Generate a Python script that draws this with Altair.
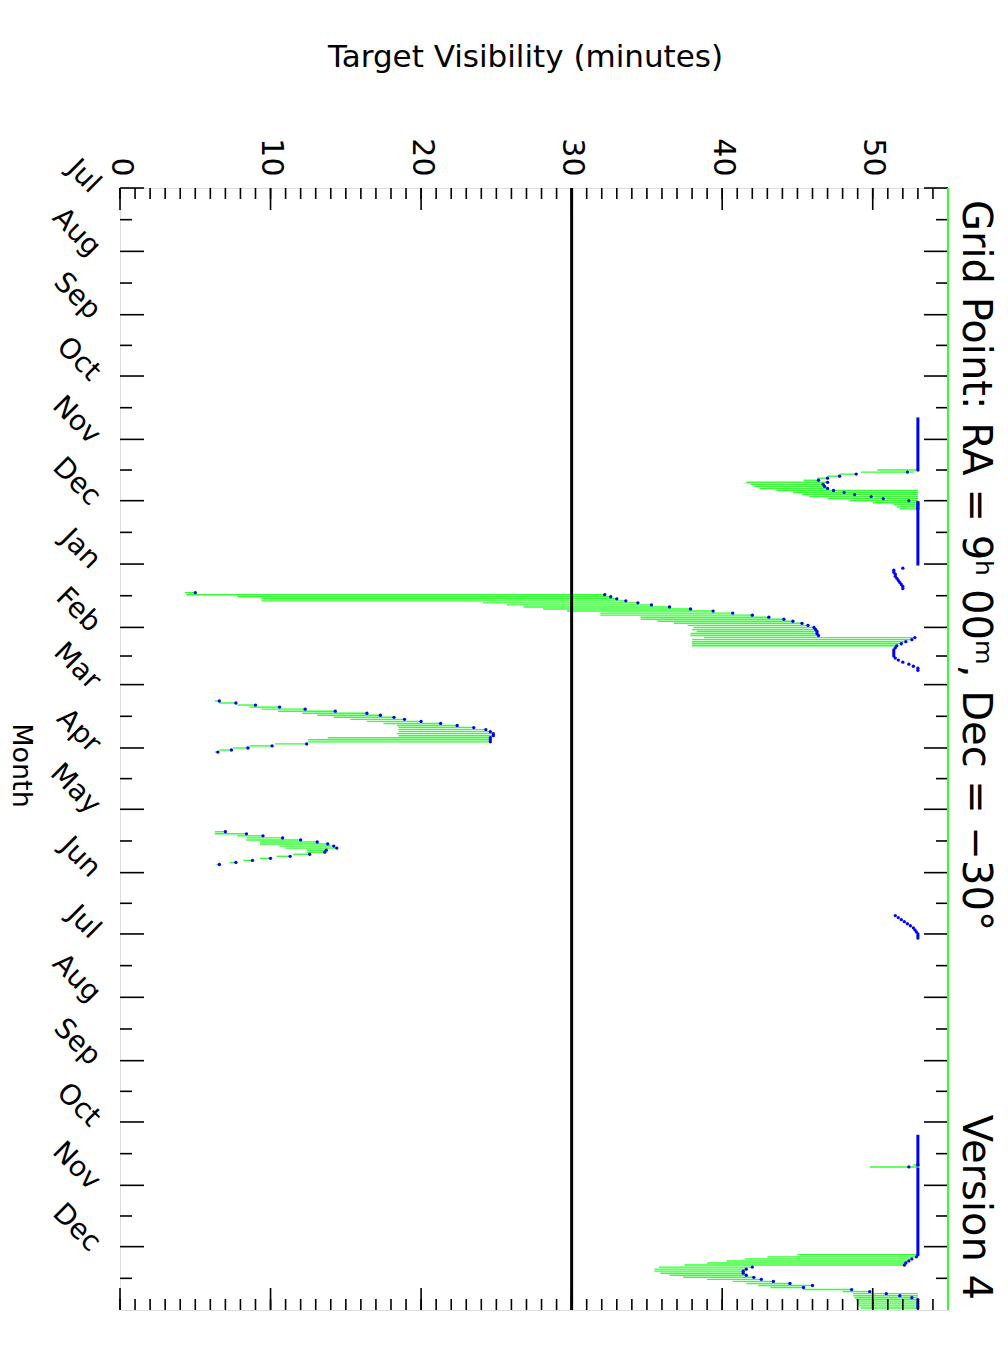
import altair as alt
import pandas as pd

# ---------------- axis categories / ticks ----------------
month_names = ["Jul", "Aug", "Sep", "Oct", "Nov", "Dec", "Jan", "Feb", "Mar",
               "Apr", "May", "Jun", "Jul", "Aug", "Sep", "Oct", "Nov", "Dec"]
month_start = [0, 31, 62, 92, 123, 153, 184, 215, 243, 274, 304, 335, 365,
               396, 427, 457, 488, 518]
month_mid = [15.5, 46.5, 77, 107.5, 138, 168.5, 199.5, 229, 258.5, 289, 319.5,
             350, 380.5, 411.5, 442, 472.5, 503, 533.5]
minute_major = [0, 10, 20, 30, 40, 50]
minute_minor = [0, 1, 2, 3, 4, 5, 6, 7, 8, 9, 10, 11, 12, 13, 14, 15, 16, 17, 18,
                19, 20, 21, 22, 23, 24, 25, 26, 27, 28, 29, 30, 31, 32, 33, 34,
                35, 36, 37, 38, 39, 40, 41, 42, 43, 44, 45, 46, 47, 48, 49, 50,
                51, 52, 53, 54, 55]
threshold = [30]

# ---------------- daily visibility (day since 1 Jul) ----------------
days = [138, 139, 140, 141, 142, 143, 144, 145, 146, 147, 148, 149, 150, 151, 152, 153, 154, 155, 156, 157,
        186, 187, 188, 189, 190, 191, 192, 193, 194, 195, 196,
        198, 199, 200, 201, 202, 203, 204, 205, 206, 207, 208, 209, 210, 211, 212, 213, 214, 215, 216, 217,
        218, 219, 220, 221, 222, 223, 224, 225, 226, 227, 228, 229, 230, 231, 232, 233, 234, 235, 236,
        251, 252, 253, 254, 255, 256, 257, 258, 259, 260, 261, 262, 263, 264, 265, 266, 267, 268, 269, 270,
        271, 272, 273, 274, 275, 276,
        315, 316, 317, 318, 319, 320, 321, 322, 323, 324, 325, 326, 327, 328, 329, 330, 331,
        356, 357, 358, 359, 360, 361, 362, 363, 364, 365, 366, 367,
        478, 479,
        522, 523, 524, 525, 526, 527, 528, 529, 530, 531, 532, 533, 534, 535, 536, 537, 538, 539, 540, 541,
        542, 543, 544, 545, 546, 547, 548]
vis_min = [50.3, 49.2, 47.8, 47.0, 46.3, 45.4, 41.6, 41.9, 42.1, 42.5, 43.6, 44.7, 45.3, 45.8, 47.0, 48.5, 50.0, 51.4, 51.6, 51.8,
           52.0, 51.4, 51.4, 51.5, 51.5, 51.6, 51.7, 51.8, 51.9, 52.0, 52.0,
           4.3, 4.4, 7.8, 9.4, 9.4, 24.1, 25.7, 26.8, 28.1, 29.7, 31.9, 31.9, 34.6, 34.6, 35.7, 36.8, 37.7, 38.1, 38.0, 38.3,
           37.9, 37.9, 38.8, 38.0, 38.0, 38.0, 38.0, 51.5, 51.4, 51.4, 51.4, 51.4, 51.5, 51.7, 52.0, 52.4, 52.7, 53.0, 53.0,
           6.3, 6.6, 7.8, 8.6, 9.4, 10.5, 12.1, 13.1, 14.2, 15.3, 16.4, 17.5, 18.4, 18.5, 18.5, 18.5, 18.4, 18.5, 13.8, 12.5,
           12.5, 10.3, 8.6, 7.5, 6.6, 6.3,
           6.3, 6.3, 7.8, 8.4, 8.4, 9.3, 9.3, 10.6, 11.0, 12.4, 12.4, 11.5, 10.4, 9.3, 8.2, 7.3, 6.4,
           51.5, 51.7, 51.9, 52.1, 52.3, 52.5, 52.7, 52.8, 52.9, 53.0, 53.0, 53.0,
           52.7, 49.8,
           45.0, 43.0, 41.5, 40.3, 39.0, 37.5, 35.8, 35.5, 35.5, 35.9, 36.5, 37.4, 39.0, 40.7, 41.6, 42.4, 43.2, 45.4, 48.0, 48.7,
           48.7, 48.8, 48.9, 49.0, 49.0, 49.1, 49.2]
vis_max = [53.0, 52.7, 49.0, 47.9, 47.1, 46.5, 47.0, 46.8, 46.9, 47.0, 53.0, 53.0, 53.0, 53.0, 53.0, 53.0, 53.0, 53.0, 53.0, 53.0,
           52.0, 51.4, 51.4, 51.5, 51.5, 51.6, 51.7, 51.8, 51.9, 52.0, 52.0,
           5.0, 32.2, 32.6, 33.0, 33.6, 34.4, 35.3, 36.5, 37.9, 39.4, 40.7, 42.0, 43.1, 44.1, 44.7, 45.3, 45.7, 46.1, 46.2, 46.3,
           46.3, 46.4, 52.8, 52.6, 52.2, 51.9, 51.6, 51.5, 51.4, 51.4, 51.4, 51.4, 51.5, 51.7, 52.0, 52.4, 52.7, 53.0, 53.0,
           6.6, 7.7, 9.0, 10.6, 12.3, 14.3, 16.4, 17.3, 18.2, 18.9, 20.0, 21.3, 22.4, 23.5, 24.3, 24.6, 24.8, 24.8, 24.6, 24.6,
           24.6, 12.5, 10.2, 8.6, 7.5, 6.6,
           7.0, 8.4, 9.5, 10.8, 12.0, 13.1, 13.8, 14.2, 14.4, 13.7, 13.6, 12.6, 11.3, 10.0, 8.8, 7.7, 6.6,
           51.5, 51.7, 51.9, 52.1, 52.3, 52.5, 52.7, 52.8, 52.9, 53.0, 53.0, 53.0,
           53.0, 53.0,
           53.0, 52.9, 52.6, 52.4, 52.2, 52.1, 42.0, 41.6, 41.4, 41.4, 41.6, 42.1, 42.6, 43.4, 44.5, 46.0, 45.4, 48.6, 49.8, 53.0,
           53.0, 53.0, 53.0, 53.0, 53.0, 53.0, 53.0]
vis_blue = [53.0, 52.3, 48.9, 47.8, 47.0, 46.4, 47.0, 46.7, 46.8, 47.0, 47.4, 48.1, 48.8, 49.9, 50.7, 52.4, 53.0, 53.0, 53.0, 53.0,
            52.0, 51.4, 51.4, 51.5, 51.5, 51.6, 51.7, 51.8, 51.9, 52.0, 52.0,
            5.0, 32.2, 32.6, 33.0, 33.6, 34.4, 35.3, 36.5, 37.9, 39.4, 40.7, 42.0, 43.1, 44.1, 44.7, 45.3, 45.7, 46.1, 46.2, 46.3,
            46.3, 46.4, 52.8, 52.6, 52.2, 51.9, 51.6, 51.5, 51.4, 51.4, 51.4, 51.4, 51.5, 51.7, 52.0, 52.4, 52.7, 53.0, 53.0,
            6.6, 7.7, 9.0, 10.6, 12.3, 14.3, 16.4, 17.3, 18.2, 18.9, 20.0, 21.3, 22.4, 23.5, 24.3, 24.6, 24.8, 24.8, 24.6, 24.6,
            24.6, 12.4, 10.1, 8.5, 7.4, 6.5,
            7.0, 8.4, 9.5, 10.8, 12.0, 13.1, 13.8, 14.2, 14.4, 13.7, 13.6, 12.6, 11.3, 10.0, 8.8, 7.7, 6.6,
            51.5, 51.7, 51.9, 52.1, 52.3, 52.5, 52.7, 52.8, 52.9, 53.0, 53.0, 53.0,
            53.0, 52.4,
            53.0, 52.9, 52.6, 52.4, 52.2, 52.1, 42.0, 41.6, 41.4, 41.4, 41.6, 42.1, 42.6, 43.4, 44.5, 46.0, 45.4, 48.6, 49.8, 50.9,
            51.8, 52.6, 53.0, 53.0, 53.0, 53.0, 53.0]

# continuous-visibility runs (blue at the maximum every day)
cvz_start = [113, 154, 464, 480]
cvz_end = [137, 184, 478, 521]
cvz_minutes = [53.0, 53.0, 53.0, 53.0]

title_text = "Grid Point: RA = 9\u02b0 00\u1d50, Dec = \u221230\u00b0"
version_text = "Version 4"

# ---------------- chart ----------------
W, H = 828, 1122
FONT = "DejaVu Sans"
GREEN = "#33ff33"
BLUE = "#0000ff"

df = pd.DataFrame({"day": days, "vmin": vis_min, "vmax": vis_max, "blue": vis_blue})
df_cvz = pd.DataFrame({"day": cvz_start, "end": cvz_end, "vmin": cvz_minutes})
df_thr = pd.DataFrame({"vmin": threshold})
df_mmin = pd.DataFrame({"vmin": minute_minor})
df_mmaj = pd.DataFrame({"vmin": minute_major})
df_mstart = pd.DataFrame({"day": month_start})
df_mmid = pd.DataFrame({"day": month_mid})
one = pd.DataFrame({"t": [title_text]})
one_v = pd.DataFrame({"t": [version_text]})
dummy = pd.DataFrame({"a": [0]})

xs = alt.Scale(domain=[0, 55], nice=False, zero=False)
ys = alt.Scale(domain=[0, 549], reverse=True, nice=False, zero=False)

label_expr = "[" + ",".join("'%s'" % m for m in month_names) + "][indexof([" + \
    ",".join(str(d) for d in month_start) + "], datum.value)]"

top_axis = alt.Axis(orient="top", values=minute_major, title="Target Visibility (minutes)",
                    titleAngle=0, titleX=405, titleY=-131, titleAlign="center",
                    titleBaseline="middle", titleFontSize=31, titleFontWeight="normal",
                    titleFont=FONT, titleColor="black",
                    labelAngle=90, labelAlign="right", labelBaseline="middle",
                    labelPadding=12, labelFontSize=30, labelFont=FONT, labelColor="black",
                    labelFlush=False, labelOverlap=False,
                    tickSize=0, domain=False, grid=False)
left_axis = alt.Axis(orient="left", values=month_start, labelExpr=label_expr,
                     labelAngle=45, labelAlign="right", labelBaseline="middle",
                     labelPadding=25, labelFontSize=28, labelFont=FONT, labelColor="black",
                     labelFlush=False, labelOverlap=False,
                     title="Month", titleAngle=90, titleX=-100, titleY=577,
                     titleAlign="center", titleBaseline="middle", titleFontSize=27,
                     titleFontWeight="normal", titleFont=FONT, titleColor="black",
                     tickSize=0, domain=False, grid=False)


def X(field):
    return alt.X(field, type="quantitative", scale=xs, axis=top_axis)


def Y(field):
    return alt.Y(field, type="quantitative", scale=ys, axis=left_axis)


green = alt.Chart(df).mark_rule(color=GREEN, strokeWidth=1.4).encode(
    x=X("vmin"), x2="vmax", y=Y("day"))
thr = alt.Chart(df_thr).mark_rule(color="black", strokeWidth=3).encode(x=X("vmin"))
cvz = alt.Chart(df_cvz).mark_rule(color=BLUE, strokeWidth=3, strokeCap="square").encode(
    x=X("vmin"), y=Y("day"), y2="end")
dots = alt.Chart(df).mark_circle(color=BLUE, size=11, opacity=1).encode(
    x=X("blue"), y=Y("day"))

tick_style = dict(color="black", strokeWidth=1.6)
top_min = alt.Chart(df_mmin).mark_rule(**tick_style).encode(
    x=X("vmin"), y=alt.value(0), y2=alt.value(11))
top_maj = alt.Chart(df_mmaj).mark_rule(**tick_style).encode(
    x=X("vmin"), y=alt.value(0), y2=alt.value(22))
bot_min = alt.Chart(df_mmin).mark_rule(**tick_style).encode(
    x=X("vmin"), y=alt.value(H), y2=alt.value(H - 11))
bot_maj = alt.Chart(df_mmaj).mark_rule(**tick_style).encode(
    x=X("vmin"), y=alt.value(H), y2=alt.value(H - 22))
left_maj = alt.Chart(df_mstart).mark_rule(**tick_style).encode(
    y=Y("day"), x=alt.value(0), x2=alt.value(24))
left_min = alt.Chart(df_mmid).mark_rule(**tick_style).encode(
    y=Y("day"), x=alt.value(0), x2=alt.value(12))
right_maj = alt.Chart(df_mstart).mark_rule(**tick_style).encode(
    y=Y("day"), x=alt.value(W), x2=alt.value(W - 24))
right_min = alt.Chart(df_mmid).mark_rule(**tick_style).encode(
    y=Y("day"), x=alt.value(W), x2=alt.value(W - 12))

right_border = alt.Chart(dummy).mark_rule(color=GREEN, strokeWidth=2).encode(
    x=alt.value(W), y=alt.value(0), y2=alt.value(H))

title_mark = alt.Chart(one).mark_text(angle=90, align="left", baseline="middle",
                                      fontSize=40, font=FONT, color="black").encode(
    text="t:N", x=alt.value(W + 27), y=alt.value(12))
version_mark = alt.Chart(one_v).mark_text(angle=90, align="right", baseline="middle",
                                          fontSize=40, font=FONT, color="black").encode(
    text="t:N", x=alt.value(W + 27), y=alt.value(H - 10))

chart = alt.layer(
    green, thr, cvz, dots,
    top_min, top_maj, bot_min, bot_maj, left_maj, left_min, right_maj, right_min,
    right_border, title_mark, version_mark,
).properties(
    width=W, height=H,
    autosize=alt.AutoSizeParams(type="none"),
    padding={"left": 112, "top": 180, "right": 52, "bottom": 40},
).configure_view(stroke="black", strokeWidth=2).configure(background="white")

chart.save("out.html", embed_options={"renderer": "svg", "actions": False})
